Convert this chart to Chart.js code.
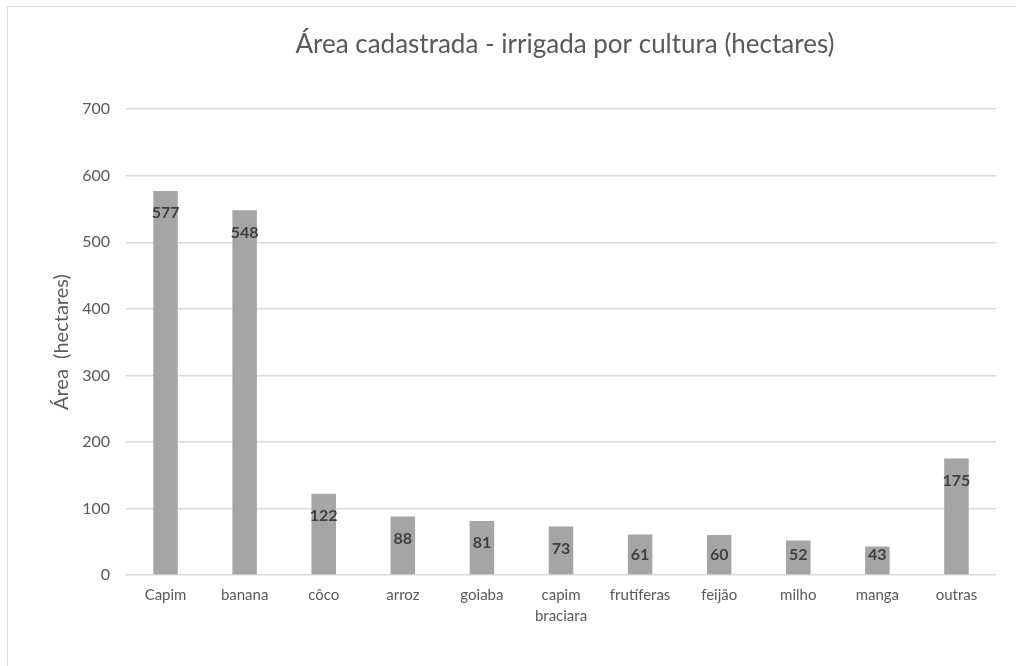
<!DOCTYPE html>
<html>
<head>
<meta charset="utf-8">
<script src="https://cdn.jsdelivr.net/npm/chart.js@4/dist/chart.umd.min.js"></script>
<style>
    body { margin: 0; overflow: hidden; background: #fff; }
    #frame {
        position: absolute; left: 7px; top: 6px;
        width: 1200px; height: 720px;
        border: 1px solid #d9d9d9;
    }
    #wrap { position: absolute; left: 0; top: 0; width: 1114px; height: 660px; }
</style>
</head>
<body>
<div id="frame"><div id="wrap"><canvas id="areaChart"></canvas></div></div>
<script>
var culturas = ["Capim", "banana", "côco", "arroz", "goiaba", ["capim", "braciara"], "frutíferas", "feijão", "milho", "manga", "outras"];
var hectares = [577, 548, 122, 88, 81, 73, 61, 60, 52, 43, 175];
var yTicks = [0, 100, 200, 300, 400, 500, 600, 700];

var FONT = "Lato, 'Liberation Sans', sans-serif";

// values written inside the top of each bar, like the "inside end" labels
var barValues = {
    id: 'barValues',
    afterDatasetsDraw: function(chart) {
        var ctx = chart.ctx;
        var meta = chart.getDatasetMeta(0);
        ctx.save();
        ctx.font = "bold 16px " + FONT;
        ctx.fillStyle = "#404040";
        ctx.textAlign = "center";
        ctx.textBaseline = "middle";
        meta.data.forEach(function(bar, i) {
            var y = Math.min(bar.y + 22, bar.base - 19);
            ctx.fillText(String(hectares[i]), bar.x, y);
        });
        ctx.restore();
    }
};

var chart = new Chart(document.getElementById("areaChart"), {
    type: 'bar',
    data: {
        labels: culturas,
        datasets: [{
            label: "Área",
            data: hectares,
            backgroundColor: "#a5a5a5",
            borderWidth: 0,
            barPercentage: 1,
            categoryPercentage: 0.31
        }]
    },
    options: {
        responsive: true,
        maintainAspectRatio: false,
        animation: false,
        layout: { padding: 0 },
        plugins: {
            legend: { display: false },
            tooltip: { enabled: false },
            title: {
                display: true,
                text: "Área cadastrada - irrigada por cultura (hectares)",
                color: "#595959",
                font: { family: FONT, size: 26, weight: 'normal' },
                padding: { top: 22, bottom: 49 }
            }
        },
        scales: {
            x: {
                grid: { display: false, drawTicks: false },
                border: { display: false },
                afterFit: function(axis) { axis.height = 92; },
                ticks: {
                    color: "#595959",
                    font: { family: FONT, size: 15, lineHeight: 1.4 },
                    maxRotation: 0,
                    autoSkip: false,
                    padding: 10
                }
            },
            y: {
                min: 0,
                max: 700,
                afterBuildTicks: function(axis) {
                    axis.ticks = yTicks.map(function(v) { return { value: v }; });
                },
                afterFit: function(axis) { axis.width = 118; },
                grid: { color: "#d9d9d9", lineWidth: 1.5, drawTicks: false },
                border: { display: false },
                ticks: {
                    color: "#595959",
                    font: { family: FONT, size: 16 },
                    padding: 16
                },
                title: {
                    display: true,
                    text: "Área  (hectares)",
                    color: "#595959",
                    font: { family: FONT, size: 20, weight: 'normal' },
                    padding: { top: 42, bottom: 0 }
                }
            },
            // empty space right of the plot, the chart area runs on past the picture
            spacer: {
                type: 'linear',
                position: 'right',
                grid: { display: false, drawTicks: false },
                border: { display: false },
                ticks: { display: false },
                afterFit: function(axis) { axis.width = 126; }
            }
        }
    },
    plugins: [barValues]
});
</script>
</body>
</html>
